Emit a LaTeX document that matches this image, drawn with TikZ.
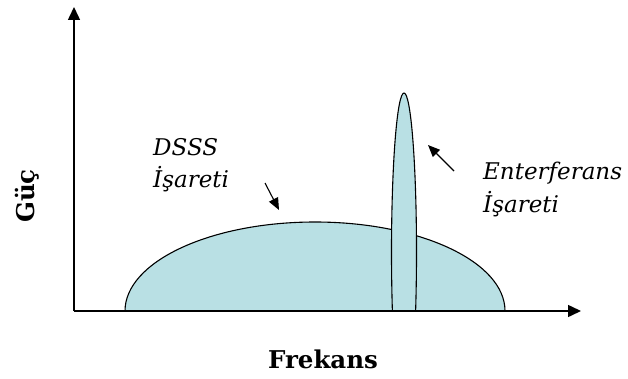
\documentclass[tikz,border=0pt]{standalone}
\usepackage{fontspec}
\setmainfont{DejaVu Serif}
\usetikzlibrary{arrows.meta}
\definecolor{sigfill}{RGB}{185,224,228}
\begin{document}
\begin{tikzpicture}[x=1pt,y=1pt,
  axis/.style={line width=1.5pt,-{Triangle[length=13pt,width=12pt]}},
  pointer/.style={line width=1.1pt,-{Triangle[length=12pt,width=10pt]}},
  signal/.style={draw=black,line width=1.1pt,fill=sigfill},
  lbl/.style={font=\fontsize{23}{26}\selectfont\itshape,inner sep=0pt,anchor=base west},
  axlbl/.style={font=\fontsize{24.5}{28}\selectfont\bfseries,inner sep=0pt}]
\useasboundingbox (0,0) rectangle (628,378);
% DSSS signal
\path[signal] (125,67) arc[start angle=180,end angle=0,x radius=190,y radius=89] -- cycle;
% interference spike
\begin{scope}
\clip (0,67) rectangle (628,378);
\path[signal] (404,126) ellipse[x radius=12.5,y radius=159];
\end{scope}
% axes
\coordinate (O) at (74,67);
\coordinate (ytip) at (74,371);
\coordinate (xtip) at (581,67);
\draw[axis] (O) -- (ytip);
\draw[axis] (O) -- (xtip);
% labels
\node[lbl] (dsss1) at (153,223) {DSSS};
\node[lbl] (dsss2) at (153,191) {İşareti};
\node[lbl] (int1) at (483,199) {Enterferans};
\node[lbl] (int2) at (483,166) {İşareti};
\node[axlbl,anchor=base] (frek) at (323,10) {Frekans};
\node[axlbl,rotate=90,anchor=base] (guc) at (34,182) {Güç};
% pointers
\coordinate (p1s) at (265,195);
\coordinate (p1e) at (279,168);
\coordinate (p2s) at (454,207);
\coordinate (p2e) at (428,233);
\draw[pointer] (p1s) -- (p1e);
\draw[pointer] (p2s) -- (p2e);
\end{tikzpicture}
\end{document}
